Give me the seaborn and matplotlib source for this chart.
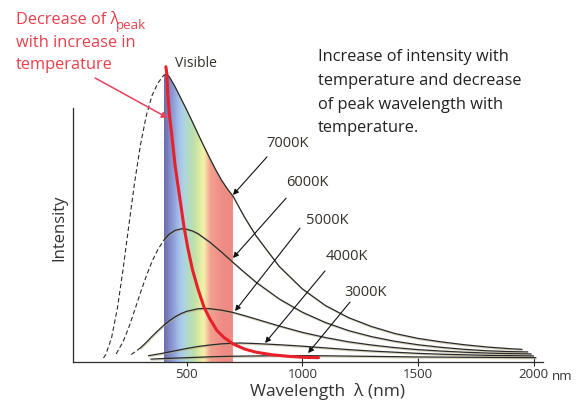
import numpy as np
import matplotlib
matplotlib.use("Agg")
import matplotlib.pyplot as plt
import matplotlib.patheffects as pe
from matplotlib.colors import LinearSegmentedColormap
from matplotlib.patches import Polygon
import seaborn as sns

# wavelength (nm) and intensity (arbitrary units, 7000K peak = 100)
nm_7000 = [140, 150, 175, 200, 225, 250, 275, 300, 325, 350, 375, 400, 414, 425, 450, 475, 500,
           525, 550, 575, 600, 625, 650, 675, 700, 750, 800, 900,
           1000, 1100, 1200, 1300, 1400, 1500, 1600, 1700, 1800, 1900, 1950]
i_7000 = [1.4, 2.6, 8.4, 18.6, 32.3, 47.6, 62.5, 75.4, 85.5, 92.5, 96.8, 99.5, 100.0, 99.0, 95.5, 91.5, 87.5,
          83.3, 79.0, 74.8, 70.7, 66.8, 63.2, 60.2, 57.6, 50.3, 43.8, 33.2,
          25.4, 19.6, 15.4, 12.3, 9.9, 8.2, 7.0, 6.0, 5.2, 4.6, 4.4]

nm_6000 = [195, 225, 250, 275, 300, 325, 350, 375, 400, 425, 450, 475, 485, 500, 525, 550, 600, 650,
           700, 750, 800, 900, 1000, 1100, 1200, 1300, 1400, 1500, 1600, 1700, 1800, 1900, 1975]
i_6000 = [2.8, 7.1, 12.1, 18.0, 24.1, 29.8, 34.9, 39.0, 42.2, 44.4, 45.7, 46.2, 46.3, 46.1, 45.5, 44.5, 41.6, 38.2,
          34.6, 31.1, 27.7, 21.9, 17.3, 13.7, 10.9, 8.8, 7.2, 6.0, 5.1, 4.4, 3.9, 3.6, 3.5]

nm_5000 = [260, 300, 325, 350, 375, 400, 425, 450, 475, 500, 550, 580, 600, 650, 700, 750, 800, 900,
           1000, 1100, 1200, 1300, 1400, 1500, 1600, 1700, 1800, 1900, 1990]
i_5000 = [2.6, 4.9, 6.8, 8.9, 10.85, 12.7, 14.3, 15.7, 16.8, 17.6, 18.5, 18.6, 18.5, 18.0, 17.2, 16.1, 14.9, 12.5,
          10.3, 8.5, 7.0, 5.9, 5.0, 4.3, 3.8, 3.4, 3.1, 2.9, 2.8]

nm_4000 = [335, 400, 450, 500, 550, 600, 650, 700, 730, 800, 900,
           1000, 1100, 1200, 1300, 1400, 1500, 1600, 1700, 1800, 1900, 2000]
i_4000 = [2.2, 3.1, 3.9, 4.7, 5.4, 5.9, 6.3, 6.5, 6.6, 6.4, 6.0,
          5.5, 4.9, 4.3, 3.8, 3.4, 3.0, 2.7, 2.5, 2.3, 2.2, 2.1]

nm_3000 = [345, 400, 500, 600, 700, 800, 900, 1000, 1100, 1200, 1300, 1400, 1500, 1600,
           1700, 1800, 1900, 2010]
i_3000 = [1.0, 1.2, 1.5, 1.8, 2.0, 2.1, 2.2, 2.2, 2.15, 2.05, 1.95, 1.85, 1.75, 1.7,
          1.65, 1.6, 1.55, 1.5]

# peak wavelength locus (red)
nm_peak = [410, 414, 418, 425, 435, 450, 470, 488, 505, 525, 550, 575, 600, 630, 660, 700,
           750, 800, 870, 950, 1010, 1070]
i_peak = [102.5, 100.0, 93.0, 86.0, 79.0, 68.0, 57.0, 47.0, 39.5, 32.0, 25.0, 19.0, 15.0, 11.0,
          8.6, 6.3, 4.5, 3.4, 2.5, 1.9, 1.6, 1.5]

temps = ["7000K", "6000K", "5000K", "4000K", "3000K"]

# colour stops of the visible band
band_nm = [400, 420, 445, 465, 485, 505, 530, 555, 572, 585, 600, 650, 700]
band_colors = ["#6a6eaa", "#7f86c4", "#93a6dc", "#a5c2ea", "#aed2e4", "#b2dcc4", "#bfe0a8",
               "#e0eca4", "#f6f2aa", "#f6c8a0", "#f2a090", "#f08c86", "#ee8a84"]

xticks = [500, 1000, 1500, 2000]

sns.set_theme(style="white")
plt.rcParams["font.family"] = ["Open Sans", "DejaVu Sans"]

DARK = "#2a2a2a"
RED = "#e8202a"
RED_TEXT = "#e8404a"

fig = plt.figure(figsize=(5.79, 4.13), dpi=100)
ax = fig.add_axes([0.1256, 0.1235, 0.8123, 0.7392])

# visible band, clipped under the 7000K curve
top = [(x, y) for x, y in zip(nm_7000, i_7000) if band_nm[0] <= x <= band_nm[-1]]
verts = [(band_nm[0], 0)] + top + [(band_nm[-1], 0)]
clip = Polygon(verts, closed=True, transform=ax.transData, facecolor="none", edgecolor="none")
ax.add_patch(clip)
stops = [(v - band_nm[0]) / (band_nm[-1] - band_nm[0]) for v in band_nm]
band_cmap = LinearSegmentedColormap.from_list("visible", list(zip(stops, band_colors)))
im = ax.imshow(np.linspace(0, 1, 300)[None, :], extent=[band_nm[0], band_nm[-1], 0, 101],
               aspect="auto", cmap=band_cmap, zorder=1, interpolation="bilinear")
im.set_clip_path(clip)

shadow = [pe.SimpleLineShadow(offset=(0.4, -0.8), shadow_color="#b8ad80", alpha=0.55), pe.Normal()]
curves = [(nm_7000, i_7000, 400), (nm_6000, i_6000, 400), (nm_5000, i_5000, 300),
          (nm_4000, i_4000, 0), (nm_3000, i_3000, 0)]
for nm, inten, dash_to in curves:
    nm = np.asarray(nm)
    inten = np.asarray(inten)
    left = nm <= dash_to
    right = nm >= dash_to
    if left.sum() > 1:
        sns.lineplot(x=nm[left], y=inten[left], ax=ax, color=DARK, linewidth=0.8,
                     linestyle=(0, (4, 2.5)), estimator=None, zorder=2)
    sns.lineplot(x=nm[right], y=inten[right], ax=ax, color=DARK, linewidth=0.9,
                 estimator=None, zorder=2, path_effects=shadow)

sns.lineplot(x=nm_peak, y=i_peak, ax=ax, color=RED, linewidth=2.2, estimator=None, zorder=4)

# arrows from labels to curves
label_xy = [(938, 76.0), (1020, 62.2), (1107, 49.3), (1193, 36.5), (1275, 24.0)]
arrow_tail = [(847, 71.2), (930, 56.9), (990, 46.5), (1098, 31.6), (1206, 20.8)]
arrow_head = [(700, 58.0), (700, 36.1), (709, 17.7), (839, 6.6), (1025, 3.1)]
for t, lxy, tail, head in zip(temps, label_xy, arrow_tail, arrow_head):
    ax.text(lxy[0], lxy[1], t, ha="center", va="center", fontsize=10.5, color="#333028")
    ax.annotate("", xy=head, xytext=tail,
                arrowprops=dict(arrowstyle="-|>", color="#111111", lw=0.8,
                                mutation_scale=8, shrinkA=0, shrinkB=0), zorder=5)

ax.annotate("", xy=(419, 84.7), xytext=(104, 98.6),
            arrowprops=dict(arrowstyle="-|>", color="#e8405a", lw=1.1,
                            mutation_scale=9, shrinkA=0, shrinkB=0), zorder=5)

ax.text(540, 103.8, "Visible", ha="center", va="center", fontsize=10, color="#333028")

ax.set_xlim(7, 2041)
ax.set_ylim(0, 106)
ax.set_yticks([])
ax.set_xticks(xticks)
ax.set_xticklabels([str(v) for v in xticks])
ax.tick_params(axis="x", direction="inout", length=6, width=0.8, color=DARK,
               labelsize=9.5, labelcolor="#333333", pad=1, bottom=True)
ax.annotate("nm", xy=(2000, 0), xytext=(13, -5.5), textcoords="offset points",
            ha="left", va="top", fontsize=9.5, color="#333333", annotation_clip=False)
sns.despine(ax=ax, top=True, right=True)
for side in ["left", "bottom"]:
    ax.spines[side].set_color(DARK)
    ax.spines[side].set_linewidth(0.9)
ax.spines["left"].set_bounds(0, 88.1)
ax.set_facecolor("none")
ax.set_xlabel("")
ax.set_ylabel("")

fig.text(59 / 579, 1 - 228 / 413, "Intensity", rotation=90, ha="center", va="center",
         fontsize=12, color="#333333")
fig.text(327 / 579, 1 - 391 / 413, "Wavelength  λ (nm)", ha="center", va="center",
         fontsize=12.5, color="#333333")

red_lines = ["Decrease of λ", "with increase in", "temperature"]
for line, y_px in zip(red_lines, [20, 43, 65]):
    fig.text(16 / 579, 1 - y_px / 413, line, ha="left", va="center",
             fontsize=11.8, color=RED_TEXT)
fig.text(116 / 579, 1 - 25 / 413, "peak", ha="left", va="center",
         fontsize=9.5, color=RED_TEXT)

fig.text(318 / 579, 1 - 49 / 413,
         "Increase of intensity with\ntemperature and decrease\nof peak wavelength with\ntemperature.",
         ha="left", va="top", fontsize=11.8, color="#222222", linespacing=1.65)

fig.savefig("out.png", dpi=100, facecolor="white")
